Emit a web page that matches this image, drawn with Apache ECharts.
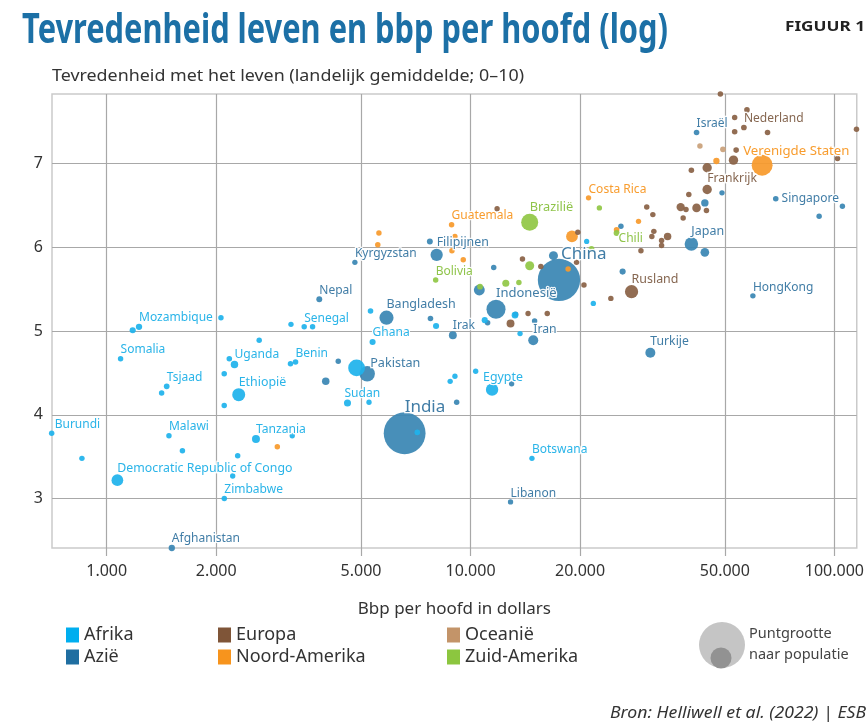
<!DOCTYPE html>
<html><head><meta charset="utf-8">
<script src="https://cdn.jsdelivr.net/npm/echarts@6/dist/echarts.min.js"></script>
<style>html,body{margin:0;padding:0;background:#fff}#c{width:867px;height:724px}</style>
</head><body><div id="c"></div>
<script>
// ---------- DATA ----------
const xTicks = [1000, 2000, 5000, 10000, 20000, 50000, 100000];
const yTicks = [3, 4, 5, 6, 7];

const afrikaNames = ['Burundi','','Democratic Republic of Congo','Mozambique','','','Somalia','Tsjaad','','Malawi','','Zimbabwe','','','Tanzania','','Uganda','','','','Ethiopië','','Benin','','Sudan','','','Ghana','','','Egypte','','','','','','','','','Botswana','','Senegal','',''];
const afrikaGdp = [706,855,1070,1227,1179,2061,1092,1462,1416,1483,1615,2105,2220,2291,2572,3236,2245,2173,2625,2104,2306,2104,3304,3200,4590,5260,4862,5380,5310,8040,11460,10330,8790,9060,13680,10940,13250,20850,21750,14750,7140,3490,3680,3210];
const afrikaSat = [3.78,3.48,3.22,5.05,5.01,5.16,4.67,4.34,4.26,3.75,3.57,3.00,3.27,3.51,3.71,3.75,4.60,4.67,4.89,4.49,4.24,4.11,4.63,4.61,4.14,4.15,4.56,4.87,5.24,5.06,4.30,4.52,4.40,4.46,4.97,5.13,5.19,6.07,5.33,3.48,3.79,5.05,5.05,5.08];
const afrikaPop = [4,4,90,12,10,4,4,6,4,4,4,4,3,4,31,3,25,5,4,4,115,4,5,4,20,3,206,10,5,10,102,3,3,3,3,10,15,2,3,3,5,4,4,3];

const azieNames = ['India','China','','Pakistan','Bangladesh','Nepal','Kyrgyzstan','Filipijnen','','','','','Irak','','Indonesië','','','','Iran','','','','Turkije','Libanon','Afghanistan','Japan','','','','Israël','Singapore','','','HongKong','',''];
const azieGdp = [6590,17500,16900,5200,5875,3840,4810,8070,7730,4000,4330,7760,8940,9160,11750,10570,11580,26180,14870,15000,13300,11140,31200,12880,1510,40450,44050,44050,49100,41800,69000,105200,90800,59700,25900,12970];
const azieSat = [3.78,5.61,5.90,4.49,5.16,5.38,5.82,5.91,6.07,4.40,4.64,5.15,4.95,4.15,5.26,5.49,5.76,5.71,4.89,5.12,5.20,5.10,4.74,2.96,2.41,6.04,5.94,6.53,6.65,7.37,6.58,6.49,6.37,5.42,6.25,4.37];
const aziePop = [1380,1410,45,170,140,8,3,100,8,25,4,5,30,4,270,75,4,10,60,4,4,4,60,3,12,126,40,24,3,5,5,3,4,4,4,3];

const europaNames = ['','','','','Nederland','','','','','','','','Frankrijk','','','','','','','','','','','','','','','Rusland','','','','','','','','','',''];
const europaGdp = [48600,57500,53200,53200,56400,65500,115000,53700,52800,102000,44700,40450,44700,39800,37800,41800,39100,44500,30500,31700,38400,31900,31500,34800,33500,33500,29400,27700,24300,20500,12880,14390,16250,11830,19720,13890,15600,19560];
const europaSat = [7.83,7.64,7.55,7.38,7.43,7.37,7.41,7.16,7.04,7.06,6.95,6.92,6.69,6.63,6.48,6.47,6.45,6.44,6.48,6.39,6.35,6.19,6.13,6.13,6.08,6.02,5.96,5.47,5.39,5.55,5.09,5.21,5.21,6.46,6.18,5.86,5.77,5.82];
const europaPop = [4,5,4,5,6,5,4,5,50,4,50,5,50,4,35,40,4,4,4,4,4,4,4,25,4,4,4,120,4,4,30,3,4,3,4,4,4,4];

const oceanieNames = ['',''];
const oceanieGdp = [42700,49400];
const oceanieSat = [7.21,7.17];
const oceaniePop = [4,6];

const noordNames = ['Verenigde Staten','','Costa Rica','','','','Guatemala','','','','','','',''];
const noordGdp = [63300,47400,21100,28950,19000,25200,8870,9060,8890,9550,5600,5560,18540,2944];
const noordSat = [6.98,7.03,6.59,6.31,6.13,6.21,6.27,6.13,5.96,5.85,6.17,6.03,5.74,3.62];
const noordPop = [330,12,3,3,90,5,4,3,4,4,4,4,4,4];

const zuidNames = ['Brazilië','','Chili','','Bolivia','','','',''];
const zuidGdp = [14540,22600,25200,21500,8020,14540,12500,13580,10620];
const zuidSat = [6.30,6.47,6.17,5.98,5.61,5.78,5.57,5.58,5.53];
const zuidPop = [212,3,8,6,4,45,20,4,6];

// ---------- PRESENTATION ----------
const regionData = {
  'Afrika': [afrikaNames, afrikaGdp, afrikaSat, afrikaPop],
  'Azië': [azieNames, azieGdp, azieSat, aziePop],
  'Europa': [europaNames, europaGdp, europaSat, europaPop],
  'Noord-Amerika': [noordNames, noordGdp, noordSat, noordPop],
  'Oceanië': [oceanieNames, oceanieGdp, oceanieSat, oceaniePop],
  'Zuid-Amerika': [zuidNames, zuidGdp, zuidSat, zuidPop]
};
const drawOrder = ['Azië','Noord-Amerika','Zuid-Amerika','Europa','Oceanië','Afrika'];
const pointColor = {'Afrika':'#1fb3ec','Azië':'#3a86b4','Europa':'#8a6246','Noord-Amerika':'#f89a2c','Oceanië':'#c9a07a','Zuid-Amerika':'#91c746'};
const legendColor = {'Afrika':'#00aeef','Azië':'#1f6ea1','Europa':'#7f5538','Noord-Amerika':'#f7941d','Oceanië':'#c39469','Zuid-Amerika':'#8cc63f'};
const labelColor = {'Afrika':'#1aaee6','Azië':'#33739f','Europa':'#7c5a43','Noord-Amerika':'#f7941d','Oceanië':'#b58c62','Zuid-Amerika':'#86c03c'};
const labelTweak = {
  'Singapore': {position:'right', distance:3},
  'Chili': {position:'bottom', distance:-3, offset:[2,0]},
  'Verenigde Staten': {offset:[-19,3]},
  'Sudan': {offset:[-3,0]},
  'Egypte': {offset:[-9,0]},
  'Burundi': {offset:[3,0]},
  'India': {distance:-3},
  'China': {distance:-4, offset:[2,0]},
  'Pakistan': {offset:[3,4]}
};
function sz(p){ return Math.sqrt(25 + 1.25 * p); }
function fsz(p){ return Math.min(17, 12 + p / 270); }
function fmt(v){ return String(v).replace(/\B(?=(\d{3})+(?!\d))/g, '.'); }

const series = drawOrder.map(r => {
  const [n, g, s, p] = regionData[r];
  const data = n.map((nm, i) => ({name: nm, value: [g[i], s[i], p[i]]}));
  data.sort((a, b) => b.value[2] - a.value[2]);
  data.forEach(d => {
    if (d.name) d.label = Object.assign({show: true, fontSize: fsz(d.value[2])}, labelTweak[d.name] || {});
  });
  return {
    type: 'scatter', name: r, data: data, symbol: 'circle', clip: false,
    symbolSize: v => sz(v[2]),
    itemStyle: {color: pointColor[r], opacity: 0.93},
    label: {show: false, position: 'top', align: 'left', distance: 0, color: labelColor[r],
      fontFamily: 'Noto Sans', fontSize: 12, formatter: '{b}',
      textBorderColor: '#fff', textBorderWidth: 2.5},
    emphasis: {disabled: true}, silent: true
  };
});

const ctx = document.createElement('canvas').getContext('2d');
function fit(text, font, w){ ctx.font = font; return w / ctx.measureText(text).width; }

const titleText = 'Tevredenheid leven en bbp per hoofd (log)';
const figText = 'FIGUUR 1';
const yTitle = 'Tevredenheid met het leven (landelijk gemiddelde; 0–10)';
const srcText = 'Bron: Helliwell et al. (2022) | ESB';

function legendBlock(names, left){
  return {
    data: names.map(n => ({name: n, itemStyle: {color: legendColor[n], opacity: 1}})),
    left: left, top: 626, orient: 'vertical', icon: 'rect',
    itemWidth: 13, itemHeight: 15, itemGap: 4, itemTextGap: 7, padding: 0,
    selectedMode: false,
    textStyle: {fontSize: 18, color: '#333', fontFamily: 'Noto Sans'}
  };
}

const chart = echarts.init(document.getElementById('c'), null, {renderer: 'canvas'});
chart.setOption({
  animation: false,
  backgroundColor: '#fff',
  grid: {left: 52, right: 10, top: 94, bottom: 176, show: true, borderColor: '#cacaca', borderWidth: 1.5},
  xAxis: {
    type: 'log', logBase: 10, min: 707.5, max: 115200,
    axisLine: {show: false},
    axisTick: {show: true, customValues: xTicks, length: 8, lineStyle: {color: '#a8a8a8', width: 1.2}},
    axisLabel: {customValues: xTicks, formatter: v => fmt(Math.round(v)), fontSize: 16, color: '#333', margin: 15, fontFamily: 'Noto Sans'},
    splitLine: {show: true, lineStyle: {color: '#a8a8a8', width: 1.2}},
    name: 'Bbp per hoofd in dollars', nameLocation: 'middle', nameGap: 53,
    nameTextStyle: {fontSize: 17, color: '#333', fontFamily: 'Noto Sans'}
  },
  yAxis: {
    type: 'value', min: 2.41, max: 7.83,
    axisLine: {show: false},
    axisTick: {show: false, customValues: yTicks},
    axisLabel: {customValues: yTicks, fontSize: 16, color: '#333', margin: 9, fontFamily: 'Noto Sans'},
    splitLine: {show: true, lineStyle: {color: '#a8a8a8', width: 1.2}}
  },
  legend: [
    legendBlock(['Afrika','Azië'], 66),
    legendBlock(['Europa','Noord-Amerika'], 218),
    legendBlock(['Oceanië','Zuid-Amerika'], 447)
  ],
  graphic: [
    {type: 'text', x: 22, y: 31, scaleX: fit(titleText, 'bold 42px "Noto Sans"', 646),
      style: {text: titleText, fontSize: 42, fontWeight: 'bold', fontFamily: 'Noto Sans', fill: '#1c70a6', align: 'left', verticalAlign: 'middle'}},
    {type: 'text', x: 785, y: 27, scaleX: fit(figText, 'bold 14px "Noto Sans"', 80),
      style: {text: figText, fontSize: 14, fontWeight: 'bold', fontFamily: 'Noto Sans', fill: '#222', align: 'left', verticalAlign: 'middle'}},
    {type: 'text', x: 52, y: 76, scaleX: fit(yTitle, '17px "Noto Sans"', 472),
      style: {text: yTitle, fontSize: 17, fontFamily: 'Noto Sans', fill: '#333', align: 'left', verticalAlign: 'middle'}},
    {type: 'circle', shape: {cx: 722, cy: 645, r: 23}, style: {fill: '#c5c5c5'}},
    {type: 'circle', shape: {cx: 721, cy: 658, r: 10.5}, style: {fill: '#929292'}},
    {type: 'text', x: 749, y: 634, style: {text: 'Puntgrootte', fontSize: 14.5, fontFamily: 'Noto Sans', fill: '#444', align: 'left', verticalAlign: 'middle'}},
    {type: 'text', x: 749, y: 655, style: {text: 'naar populatie', fontSize: 14.5, fontFamily: 'Noto Sans', fill: '#444', align: 'left', verticalAlign: 'middle'}},
    {type: 'text', x: 866, y: 713, scaleX: fit(srcText, 'italic 16px "Noto Sans"', 256),
      style: {text: srcText, fontSize: 16, fontStyle: 'italic', fontFamily: 'Noto Sans', fill: '#333', align: 'right', verticalAlign: 'middle'}}
  ],
  series: series
});
</script></body></html>
